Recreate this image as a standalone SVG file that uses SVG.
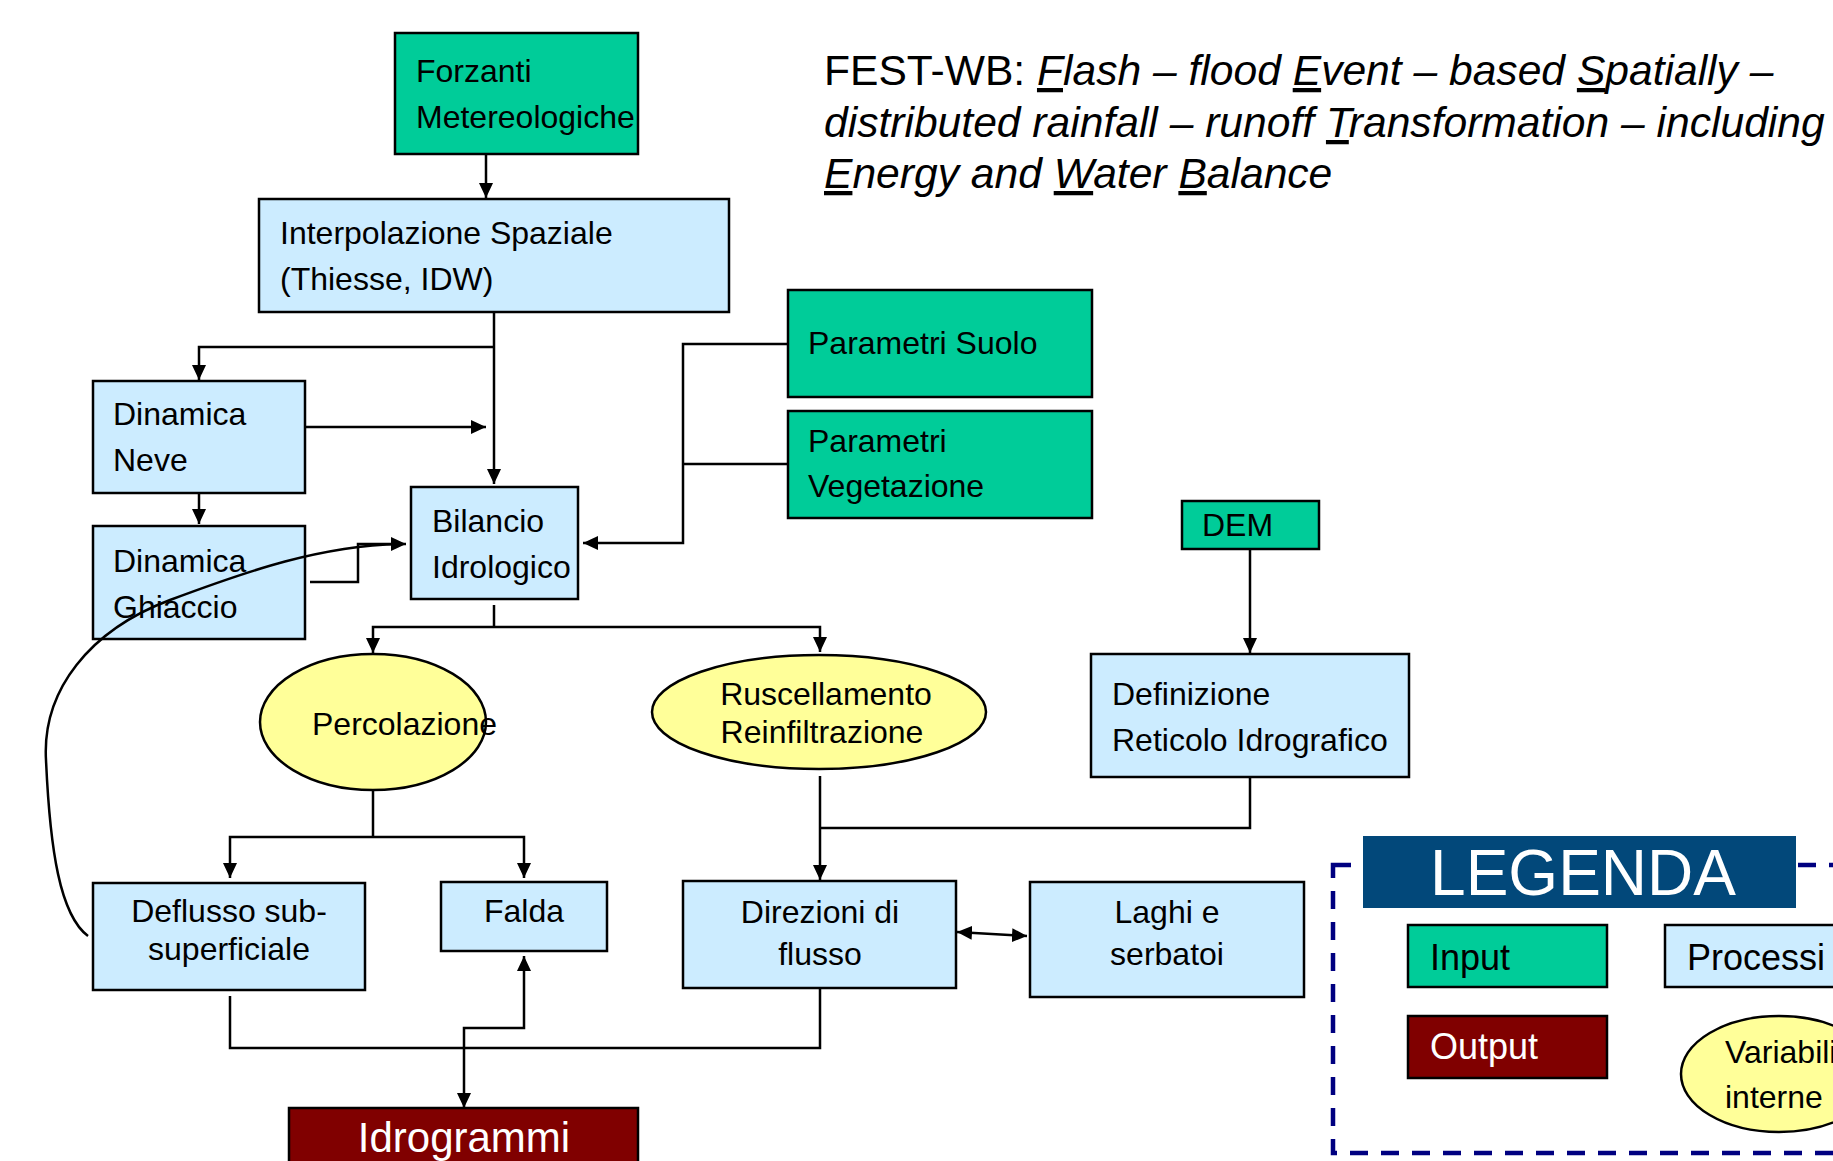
<svg xmlns="http://www.w3.org/2000/svg" width="1833" height="1161" viewBox="0 0 1833 1161">
<style>
text{font-family:"Liberation Sans",Arial,sans-serif;fill:#000}
.t{font-size:32px}
.mid{text-anchor:middle}
.inp{fill:#00CC99;stroke:#000;stroke-width:2.5}
.pro{fill:#CCECFF;stroke:#000;stroke-width:2.5}
.var{fill:#FFFF99;stroke:#000;stroke-width:2.5}
.out{fill:#800000;stroke:#000;stroke-width:2.5}
.c{fill:none;stroke:#000;stroke-width:2.5}
.a{marker-end:url(#ah)}
.aa{marker-end:url(#ah);marker-start:url(#ahs)}
.it{font-style:italic}
.u{text-decoration:underline}
.w{fill:#fff}
</style>
<defs>
<marker id="ah" markerUnits="userSpaceOnUse" markerWidth="16" markerHeight="16" refX="15" refY="7" orient="auto"><path d="M0,0 L15,7 L0,14 z" fill="#000"/></marker>
<marker id="ahs" markerUnits="userSpaceOnUse" markerWidth="16" markerHeight="16" refX="15" refY="7" orient="auto-start-reverse"><path d="M0,0 L15,7 L0,14 z" fill="#000"/></marker>
</defs>
<rect width="1833" height="1161" fill="#fff"/>

<g id="title">
<text font-size="42.6" x="824" y="85">FEST-WB: <tspan class="it"><tspan class="u">F</tspan>lash – flood <tspan class="u">E</tspan>vent – based <tspan class="u">S</tspan>patially –</tspan></text>
<text font-size="42.6" x="824" y="137" class="it">distributed rainfall – runoff <tspan class="u">T</tspan>ransformation – including</text>
<text font-size="42.6" x="824" y="188" class="it"><tspan class="u">E</tspan>nergy and <tspan class="u">W</tspan>ater <tspan class="u">B</tspan>alance</text>
</g>

<g id="forzanti"><rect class="inp" x="395" y="33" width="243" height="121"/><text class="t" x="416" y="82">Forzanti</text><text class="t" x="416" y="128">Metereologiche</text></g>
<g id="interpolazione"><rect class="pro" x="259" y="199" width="470" height="113"/><text class="t" x="280" y="244">Interpolazione Spaziale</text><text class="t" x="280" y="290">(Thiesse, IDW)</text></g>
<g id="neve"><rect class="pro" x="93" y="381" width="212" height="112"/><text class="t" x="113" y="425">Dinamica</text><text class="t" x="113" y="471">Neve</text></g>
<g id="ghiaccio"><rect class="pro" x="93" y="526" width="212" height="113"/><text class="t" x="113" y="572">Dinamica</text><text class="t" x="113" y="618">Ghiaccio</text></g>
<g id="bilancio"><rect class="pro" x="411" y="487" width="167" height="112"/><text class="t" x="432" y="532">Bilancio</text><text class="t" x="432" y="578">Idrologico</text></g>
<g id="suolo"><rect class="inp" x="788" y="290" width="304" height="107"/><text class="t" x="808" y="354">Parametri Suolo</text></g>
<g id="vegetazione"><rect class="inp" x="788" y="411" width="304" height="107"/><text class="t" x="808" y="452">Parametri</text><text class="t" x="808" y="497">Vegetazione</text></g>
<g id="dem"><rect class="inp" x="1182" y="501" width="137" height="48"/><text class="t" x="1202" y="536">DEM</text></g>
<g id="definizione"><rect class="pro" x="1091" y="654" width="318" height="123"/><text class="t" x="1112" y="705">Definizione</text><text class="t" x="1112" y="751">Reticolo Idrografico</text></g>
<g id="percolazione"><ellipse class="var" cx="373" cy="722" rx="113" ry="68"/><text class="t" x="312" y="735">Percolazione</text></g>
<g id="ruscellamento"><ellipse class="var" cx="819" cy="712" rx="167" ry="57"/><text class="t mid" x="826" y="705">Ruscellamento</text><text class="t mid" x="822" y="743">Reinfiltrazione</text></g>
<g id="deflusso"><rect class="pro" x="93" y="883" width="272" height="107"/><text class="t mid" x="229" y="922">Deflusso sub-</text><text class="t mid" x="229" y="960">superficiale</text></g>
<g id="falda"><rect class="pro" x="441" y="882" width="166" height="69"/><text class="t mid" x="524" y="922">Falda</text></g>
<g id="direzioni"><rect class="pro" x="683" y="881" width="273" height="107"/><text class="t mid" x="820" y="923">Direzioni di</text><text class="t mid" x="820" y="965">flusso</text></g>
<g id="laghi"><rect class="pro" x="1030" y="882" width="274" height="115"/><text class="t mid" x="1167" y="923">Laghi e</text><text class="t mid" x="1167" y="965">serbatoi</text></g>
<g id="idrogrammi"><rect class="out" x="289" y="1108" width="349" height="70"/><text class="w mid" font-size="42" x="464" y="1152">Idrogrammi</text></g>

<g id="connectors">
<path class="c a" d="M486,155 L486,198"/>
<path class="c a" d="M494,312 L494,484"/>
<path class="c a" d="M494,347 L199,347 L199,380"/>
<path class="c a" d="M305,427 L486,427"/>
<path class="c a" d="M199,493 L199,524"/>
<path class="c a" d="M310,582 L358,582 L358,544 L406,544"/>
<path class="c" d="M88,936 C60,915 50,850 46,760 C42,690 90,630 170,600 C250,570 320,546 400,544"/>
<path class="c a" d="M788,344 L683,344 L683,543 L583,543"/>
<path class="c" d="M788,464 L683,464"/>
<path class="c" d="M494,605 L494,627"/>
<path class="c a" d="M494,627 L373,627 L373,653"/>
<path class="c a" d="M494,627 L820,627 L820,652"/>
<path class="c" d="M373,791 L373,837"/>
<path class="c a" d="M373,837 L230,837 L230,878"/>
<path class="c a" d="M373,837 L524,837 L524,878"/>
<path class="c a" d="M820,776 L820,880"/>
<path class="c a" d="M1250,549 L1250,653"/>
<path class="c" d="M1250,777 L1250,828 L820,828"/>
<path class="c" d="M820,988 L820,1048 L230,1048 L230,996"/>
<path class="c aa" d="M524,956 L524,1028 L464,1028 L464,1108"/>
<path class="c aa" d="M957,932 L1027,936"/>
</g>

<g id="legenda">
<rect x="1333" y="865" width="540" height="288" fill="none" stroke="#000080" stroke-width="4.5" stroke-dasharray="18,13"/>
<rect x="1363" y="836" width="433" height="72" fill="#02487A"/>
<text class="w mid" font-size="64" x="1583" y="895">LEGENDA</text>
<rect class="inp" x="1408" y="925" width="199" height="62"/><text font-size="36" x="1430" y="970">Input</text>
<rect class="pro" x="1665" y="925" width="200" height="62"/><text font-size="36" x="1687" y="970">Processi</text>
<rect class="out" x="1408" y="1016" width="199" height="62"/><text class="w" font-size="36" x="1430" y="1059">Output</text>
<ellipse class="var" cx="1779" cy="1074" rx="98" ry="58"/><text font-size="32" x="1725" y="1063">Variabili</text><text font-size="32" x="1725" y="1108">interne</text>
</g>
</svg>
